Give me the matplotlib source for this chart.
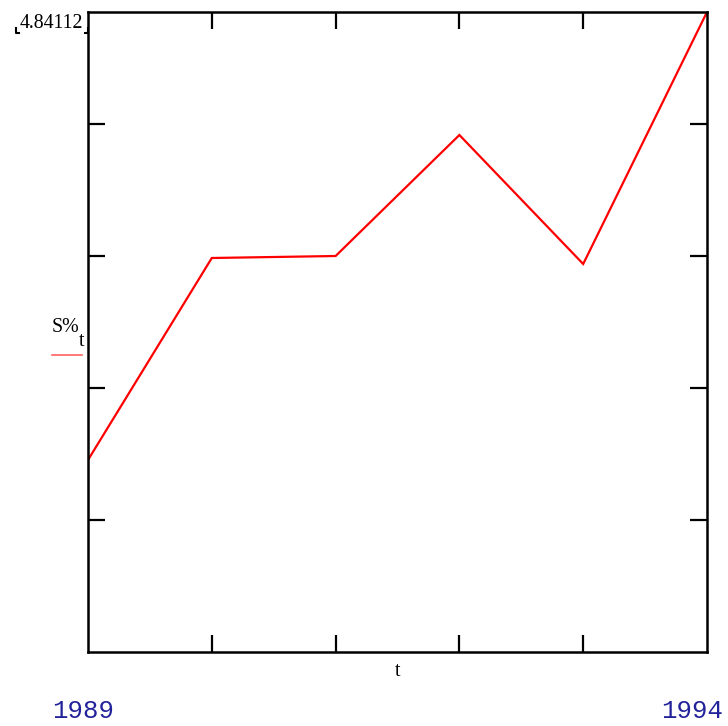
import matplotlib
matplotlib.use("Agg")
import matplotlib.pyplot as plt
from matplotlib.lines import Line2D

years = [1989, 1990, 1991, 1992, 1993, 1994]
values = [4.67234, 4.74844, 4.74919, 4.79478, 4.74618, 4.84112]
y_min = 4.6
y_max = 4.84112
y_label_top = "4.84112"
x_label = "t"
series_label = "S%"

W, H = 728, 726
fig = plt.figure(figsize=(W / 100, H / 100), dpi=100)
ax_left, ax_right, ax_top, ax_bottom = 88, 707, 12, 652
ax = fig.add_axes([ax_left / W, 1 - ax_bottom / H, (ax_right - ax_left) / W, (ax_bottom - ax_top) / H])

ax.plot(years, values, color="#ff0000", lw=1.6, solid_joinstyle="miter")
ax.set_xlim(years[0], years[-1])
ax.set_ylim(y_min, y_max)

step = (y_max - y_min) * 132 / 640
yt = [y_min + k * step for k in range(1, 5)]
ax.set_yticks(yt)
ax.set_xticks(years[1:-1])
ax.tick_params(direction="in", length=12, width=1.6, color="black",
               top=True, right=True, labelleft=False, labelbottom=False)
for s in ax.spines.values():
    s.set_linewidth(1.8)
    s.set_color("black")

serif = ["Liberation Serif", "DejaVu Serif"]
mono = ["Liberation Mono", "DejaVu Sans Mono"]
blue = "#22229a"

fig.text(20 / W, 1 - 24 / H, y_label_top, family=serif, fontsize=14.3, ha="left", va="center")
# corner brackets around the top label
for xs, ys in [([16, 16, 19], [28, 33, 33]), ([85, 88, 88], [33, 33, 28])]:
    fig.add_artist(Line2D([x / W for x in xs], [1 - y / H for y in ys], color="black", lw=1.5,
                          transform=fig.transFigure))

fig.text(398 / W, 1 - 672 / H, x_label, family=serif, fontsize=14.3, ha="center", va="center")
fig.text(52 / W, 1 - 328 / H, series_label, family=serif, fontsize=14.3, ha="left", va="center")
fig.text(79 / W, 1 - 341 / H, "t", family=serif, fontsize=14.3, ha="left", va="center")
fig.add_artist(Line2D([52 / W, 82 / W], [1 - 355 / H, 1 - 355 / H], color="#ff6060", lw=1.2,
                      transform=fig.transFigure))

fig.text(52 / W, 1 - 711 / H, str(years[0]), family=mono, fontsize=18.5, color=blue, ha="left", va="center")
fig.text(723 / W, 1 - 711 / H, str(years[-1]), family=mono, fontsize=18.5, color=blue, ha="right", va="center")

fig.savefig("out.png", dpi=100)
